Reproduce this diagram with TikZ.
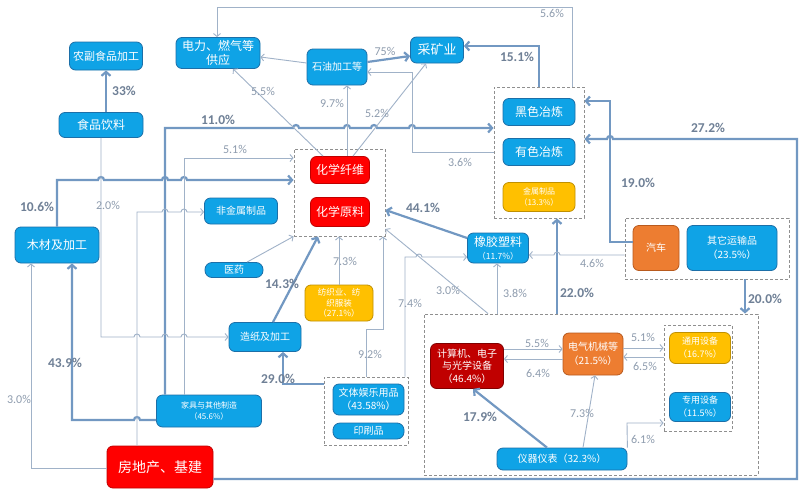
\documentclass[tikz,border=0pt]{standalone}
\usepackage{fontspec}
\setmainfont{Carlito}
\newfontfamily\cjk{Noto Sans CJK SC}
\usetikzlibrary{arrows.meta,calc}
\definecolor{bluebox}{HTML}{0FA3E6}
\definecolor{blueedge}{HTML}{1C6FA8}
\definecolor{redbox}{HTML}{FF0000}
\definecolor{rededge}{HTML}{C00000}
\definecolor{darkredbox}{HTML}{C00000}
\definecolor{darkrededge}{HTML}{800000}
\definecolor{orangebox}{HTML}{ED7D31}
\definecolor{orangeedge}{HTML}{B85A1E}
\definecolor{yellowbox}{HTML}{FFC000}
\definecolor{yellowedge}{HTML}{C09000}
\definecolor{thickline}{HTML}{7298C2}
\definecolor{thinline}{HTML}{A0B2C8}
\definecolor{boldlbl}{HTML}{6F8096}
\definecolor{thinlbl}{HTML}{8E9CAE}
\definecolor{grpline}{HTML}{8F8F8F}
\tikzset{
  bluebx/.style={rounded corners=6pt, draw=blueedge, fill=bluebox, line width=0.8pt, text=white, align=center, inner sep=0pt},
  redbx/.style={bluebx, fill=redbox, draw=rededge},
  darkredbx/.style={bluebx, fill=darkredbox, draw=darkrededge},
  orangebx/.style={bluebx, fill=orangebox, draw=orangeedge},
  yellowbx/.style={bluebx, fill=yellowbox, draw=yellowedge},
  grp/.style={draw=grpline, line width=0.9pt, dash pattern=on 3pt off 2pt, inner sep=0pt},
  wh/.style 2 args={minimum width=#1pt, minimum height=#2pt},
  fs/.style 2 args={font=\cjk\fontsize{#1}{#2}\selectfont},
  thk/.style={draw=thickline, line width=2.2pt, -{Straight Barb[length=4pt,width=9pt]}},
  thn/.style={draw=thinline, line width=0.9pt, -{Straight Barb[length=3pt,width=7pt]}},
  blbl/.style={font=\fontsize{13.5}{14}\selectfont\bfseries, text=boldlbl, inner sep=0pt},
  tlbl/.style={font=\fontsize{12}{13}\selectfont, text=thinlbl, inner sep=0pt},
}
\begin{document}
\begin{tikzpicture}[x=1pt,y=-1pt]
\fill[white] (0,0) rectangle (800,490);
\useasboundingbox (0,0) rectangle (800,490);

% nodes
\node[bluebx, wh={73}{28}, fs={11}{13}] (nongfu) at (106,56) {农副食品加工};
\node[bluebx, wh={84}{25}, fs={12}{14}] (food) at (101,125) {食品饮料};
\node[bluebx, wh={84}{31}, fs={12}{14}] (power) at (218,53) {电力、燃气等\\供应};
\node[bluebx, wh={60}{36}, fs={10}{12}] (oil) at (337,67) {石油加工等};
\node[bluebx, wh={53}{26}, fs={13}{15}] (mine) at (437,50) {采矿业};
\node[grp, wh={91}{87}] (chemgrp) at (339.5,192.5) {};
\node[redbx, wh={59}{27}, fs={12}{14}] (fiber) at (340,170) {化学纤维};
\node[redbx, wh={59}{29}, fs={12}{14}] (chemraw) at (340,212) {化学原料};
\node[bluebx, wh={73}{26}, fs={10}{12}] (nonmetal) at (241,211) {非金属制品};
\node[bluebx, wh={58}{15}, fs={10}{12}, rounded corners=7pt] (med) at (234,270) {医药};
\node[bluebx, wh={84}{36}, fs={12}{14}] (wood) at (57,245) {木材及加工};
\node[bluebx, wh={72}{29}, fs={10}{12}] (paper) at (265,337) {造纸及加工};
\node[yellowbx, wh={68}{36}, fs={8.5}{10.5}] (textile) at (339,303) {纺织业、纺\\织服装\\（27.1\%）};
\node[bluebx, wh={105}{32}, fs={8}{11}] (furn) at (209,411) {家具与其他制造\\（45.6\%）};
\node[redbx, wh={106}{42}, fs={14}{16}] (estate) at (160,467) {房地产、基建};
\node[grp, wh={90}{131}] (metalgrp) at (539,152.5) {};
\node[bluebx, wh={72}{27}, fs={12}{14}] (ferrous) at (539,112) {黑色冶炼};
\node[bluebx, wh={72}{27}, fs={12}{14}] (nonferrous) at (539,152) {有色冶炼};
\node[yellowbx, wh={72}{29}, fs={8}{11}] (metalprod) at (539,197) {金属制品\\（13.3\%）};
\node[bluebx, wh={61}{30}, fs={12}{13}] (rubber) at (498,248) {橡胶塑料\\{\fontsize{8.5}{10}\selectfont （11.7\%）}};
\node[grp, wh={164}{61}] (autogrp) at (707,248.5) {};
\node[orangebx, wh={46}{45}, fs={10}{12}] (auto) at (656,248) {汽车};
\node[bluebx, wh={90}{45}, fs={10}{14}] (otrans) at (732,248) {其它运输品\\（23.5\%）};
\node[grp, wh={334}{161}] (compgrp) at (591,394.5) {};
\node[darkredbx, wh={73}{45}, fs={10}{12.5}] (comp) at (467,366) {计算机、电子\\与光学设备\\（46.4\%）};
\node[orangebx, wh={60}{42}, fs={10}{14}] (elec) at (593,354) {电气机械等\\（21.5\%）};
\node[grp, wh={68}{106}] (equipgrp) at (698,378) {};
\node[yellowbx, wh={61}{31}, fs={9}{13}] (general) at (700,348) {通用设备\\（16.7\%）};
\node[bluebx, wh={61}{29}, fs={9}{13}] (special) at (700,407) {专用设备\\（11.5\%）};
\node[bluebx, wh={130}{22}, fs={10}{12}] (instr) at (562,459) {仪器仪表（32.3\%）};
\node[grp, wh={84}{68}] (sportgrp) at (366,411) {};
\node[bluebx, wh={71}{31}, fs={10}{13}] (sport) at (368.5,399.5) {文体娱乐用品\\（43.58\%）};
\node[bluebx, wh={71}{16}, fs={10}{12}, rounded corners=7pt] (print) at (368.5,431) {印刷品};

% thick connectors
\draw[thk] (nongfu.south |- food.north) -- (nongfu.south);
\draw[thk] (165,0 |- furn.north) -- (165,128) -- (293,128) arc[start angle=180,end angle=0,radius=3pt]
  -- (344,128) arc[start angle=180,end angle=0,radius=3pt]
  -- (371,128) arc[start angle=180,end angle=0,radius=3pt]
  -- (409,128) arc[start angle=180,end angle=0,radius=3pt] -- (metalgrp.west |- 0,128);
\draw[thk] (wood.north) -- (57,180) -- (98,180) arc[start angle=180,end angle=0,radius=3pt]
  -- (162,180) arc[start angle=180,end angle=0,radius=3pt]
  -- (181,180) arc[start angle=180,end angle=0,radius=3pt] -- (chemgrp.west |- 0,180);
\draw[thk] (furn.west |- 0,420) -- (140,420) arc[start angle=0,end angle=180,radius=3pt] -- (72,420) -- (72,0 |- wood.south);
\draw[thk] (273,0 |- paper.north) -- (318,0 |- chemgrp.south);
\draw[thk] (sportgrp.west |- 0,384) -- (283,384) -- (283,0 |- paper.south);
\draw[thk] ([yshift=10pt]rubber.west) -- (chemgrp.east |- 0,210);
\draw[thk] (557,0 |- compgrp.north) -- (557,0 |- metalgrp.south);
\draw[thk] (metalgrp.north) -- (539,46) -- (mine.east |- 0,46);
\draw[thk] ([yshift=5pt]oil.east) -- ([yshift=-6pt]mine.west);
\draw[thk] (auto.west |- 0,242) -- (610,242) -- (610,101) -- (metalgrp.east |- 0,101);
\draw[thk] (estate.east |- 0,479) -- (797,479) -- (797,139) -- (613,139) arc[start angle=0,end angle=180,radius=3pt] -- (metalgrp.east |- 0,139);
\draw[thk] (745,0 |- autogrp.south) -- (745,0 |- compgrp.north);
\draw[thk] (547,0 |- instr.north) -- (473,0 |- comp.south);

% thin connectors
\draw[thn] (oil.west |- 0,63) -- (power.east |- 0,57);
\draw[thn] (572,0 |- metalgrp.north) -- (572,7) -- (217,7) -- (217,0 |- power.north);
\draw[thn] (323,0 |- fiber.north) -- (233,0 |- power.south);
\draw[thn] (347,0 |- fiber.north) -- (347,0 |- oil.south);
\draw[thn] (353,0 |- fiber.north) -- (426,0 |- mine.south);
\draw[thn] (metalgrp.west |- nonferrous) -- (412,0 |- nonferrous) -- (412,72) -- (oil.east |- 0,72);
\draw[thn] (184,0 |- furn.north) -- (184,158) -- (chemgrp.west |- 0,158);
\draw[thn] (101,0 |- food.south) -- (101,337) -- (134,337) arc[start angle=180,end angle=0,radius=3pt]
  -- (162,337) arc[start angle=180,end angle=0,radius=3pt]
  -- (181,337) arc[start angle=180,end angle=0,radius=3pt] -- (paper.west |- 0,337);
\draw[thn] (137,0 |- estate.north) -- (137,212) -- (162,212) arc[start angle=180,end angle=0,radius=3pt]
  -- (181,212) arc[start angle=180,end angle=0,radius=3pt] -- (nonmetal.west |- 0,212);
\draw[thn] (estate.west |- 0,468) -- (31,468) -- (31,0 |- wood.south);
\draw[thn] ([xshift=13pt]med.north) -- (chemgrp.south west);
\draw[thn] (textile.north) -- (textile.north |- chemgrp.south);
\draw[thn] (366,0 |- sportgrp.north) -- (366,329) -- (383,329) -- (383,0 |- chemgrp.south);
\draw[thn] (405,0 |- sportgrp.north) -- (405,257) -- (416,257) arc[start angle=180,end angle=0,radius=3pt] -- (rubber.west |- 0,257);
\draw[thn] (488,0 |- compgrp.north) -- (chemgrp.east |- 0,229);
\draw[thn] (497,0 |- compgrp.north) -- (497,0 |- rubber.south);
\draw[thn] (autogrp.west |- 0,255) -- (560,255) arc[start angle=0,end angle=180,radius=3pt] -- (rubber.east |- 0,255);
\draw[thn] (comp.east |- 0,349) -- (elec.west |- 0,349);
\draw[thn] (elec.west |- 0,359) -- (comp.east |- 0,359);
\draw[thn] (elec.east |- 0,348) -- (equipgrp.west |- 0,348);
\draw[thn] (equipgrp.west |- 0,357) -- (elec.east |- 0,357);
\draw[thn] (583,0 |- instr.north) -- (595,0 |- elec.south);
\draw[thn] (instr.north east) -- (627,423) -- (equipgrp.west |- 0,423);

% labels
\node[blbl] (l1) at (124,91) {33\%};
\node[blbl] (l2) at (218,120) {11.0\%};
\node[blbl] (l3) at (37,207) {10.6\%};
\node[blbl] (l4) at (65,363) {43.9\%};
\node[blbl] (l5) at (282,284) {14.3\%};
\node[blbl] (l6) at (278,379) {29.0\%};
\node[blbl] (l7) at (423,208) {44.1\%};
\node[blbl] (l8) at (577,293) {22.0\%};
\node[blbl] (l9) at (517,57) {15.1\%};
\node[blbl] (l10) at (638,183) {19.0\%};
\node[blbl] (l11) at (708,128) {27.2\%};
\node[blbl] (l12) at (765,299) {20.0\%};
\node[blbl] (l13) at (480,417) {17.9\%};
\node[tlbl] (t1) at (552,13) {5.6\%};
\node[tlbl] (t2) at (385,51) {75\%};
\node[tlbl] (t3) at (263,91) {5.5\%};
\node[tlbl] (t4) at (332,103) {9.7\%};
\node[tlbl] (t5) at (377,113) {5.2\%};
\node[tlbl] (t6) at (460,162) {3.6\%};
\node[tlbl] (t7) at (235,149) {5.1\%};
\node[tlbl] (t8) at (108,205) {2.0\%};
\node[tlbl] (t9) at (19,399) {3.0\%};
\node[tlbl] (t10) at (345,261) {7.3\%};
\node[tlbl] (t11) at (370,354) {9.2\%};
\node[tlbl] (t12) at (410,303) {7.4\%};
\node[tlbl] (t13) at (448,290) {3.0\%};
\node[tlbl] (t14) at (515,293) {3.8\%};
\node[tlbl] (t15) at (592,263) {4.6\%};
\node[tlbl] (t16) at (537,343) {5.5\%};
\node[tlbl] (t17) at (538,373) {6.4\%};
\node[tlbl] (t18) at (643,337) {5.1\%};
\node[tlbl] (t19) at (645,366) {6.5\%};
\node[tlbl] (t20) at (582,413) {7.3\%};
\node[tlbl] (t21) at (643,439) {6.1\%};
\end{tikzpicture}
\end{document}
